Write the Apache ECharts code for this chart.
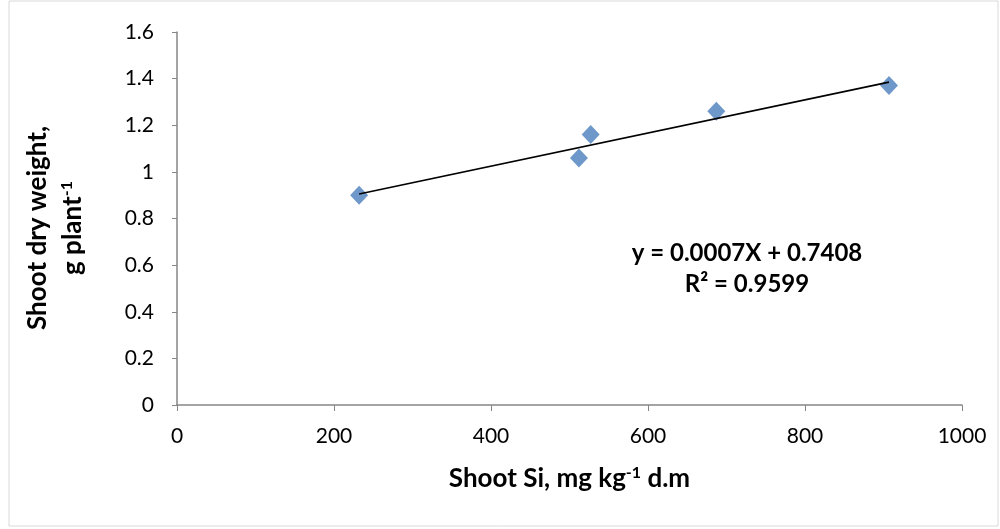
<!DOCTYPE html>
<html>
<head>
<meta charset="utf-8">
<script src="https://cdn.jsdelivr.net/npm/echarts@6/dist/echarts.min.js"></script>
<style>
  html, body { margin: 0; padding: 0; background: #fff; }
  #chart { width: 1000px; height: 529px; }
</style>
</head>
<body>
<div id="chart"></div>
<script>
// measured points
const shootSi = [232, 512, 527, 687, 907];
const shootDryWeight = [0.9, 1.06, 1.16, 1.26, 1.37];
// trendline end points
const trendX = [232, 907];
const trendY = [0.905, 1.385];
const equationText = "y = 0.0007X + 0.7408";
const r2Text = "R² = 0.9599";

const font = "Lato, 'Open Sans', sans-serif";
const myChart = echarts.init(document.getElementById("chart"));

myChart.setOption({
  animation: false,
  grid: {
    left: 177,
    right: 38,
    top: 32,
    bottom: 124,
  },
  xAxis: {
    type: "value",
    min: 0,
    max: 1000,
    interval: 200,
    name: "Shoot Si, mg kg{sup|-1} d.m",
    nameLocation: "middle",
    nameGap: 60,
    nameTextStyle: {
      fontFamily: font,
      fontSize: 26,
      fontWeight: "bold",
      color: "#000",
      rich: {
        sup: { fontSize: 16, fontWeight: "bold", padding: [0, 0, 12, 0], fontFamily: font },
      },
    },
    axisLine: { lineStyle: { color: "#868686", width: 1.5 } },
    axisTick: { show: true, length: 6, lineStyle: { color: "#868686" } },
    axisLabel: {
      color: "#000",
      fontSize: 21,
      fontFamily: font,
      margin: 21,
      formatter: (v) => String(v),
    },
    splitLine: { show: false },
  },
  yAxis: {
    type: "value",
    min: 0,
    max: 1.6,
    interval: 0.2,
    axisLine: { show: true, lineStyle: { color: "#868686", width: 1.5 } },
    axisTick: { show: true, length: 5, lineStyle: { color: "#868686" } },
    axisLabel: { color: "#000", fontSize: 21, fontFamily: font, margin: 23 },
    splitLine: { show: false },
  },
  graphic: [
    {
      type: "rect",
      shape: { x: 9, y: 1, width: 989, height: 525 },
      style: { fill: "none", stroke: "#d9d9d9", lineWidth: 1 },
      silent: true,
    },
    {
      type: "text",
      x: 55,
      y: 228,
      rotation: Math.PI / 2,
      style: {
        text: "Shoot dry weight,\ng plant{sup|-1}",
        fontFamily: font,
        fontSize: 26,
        fontWeight: "bold",
        fill: "#000",
        align: "center",
        verticalAlign: "middle",
        lineHeight: 35,
        rich: {
          sup: { fontSize: 16, fontWeight: "bold", fontFamily: font, padding: [0, 0, 12, 0], lineHeight: 35 },
        },
      },
    },
    {
      type: "text",
      x: 747,
      y: 253,
      style: {
        text: equationText,
        fontFamily: font,
        fontSize: 24,
        fontWeight: "bold",
        fill: "#000",
        align: "center",
        verticalAlign: "middle",
      },
    },
    {
      type: "text",
      x: 747,
      y: 284,
      style: {
        text: r2Text,
        fontFamily: font,
        fontSize: 24,
        fontWeight: "bold",
        fill: "#000",
        align: "center",
        verticalAlign: "middle",
      },
    },
  ],
  series: [
    {
      name: "Trend",
      type: "line",
      data: trendX.map((x, i) => [x, trendY[i]]),
      symbol: "none",
      lineStyle: { color: "#000", width: 1.6 },
      z: 3,
    },
    {
      name: "Shoot dry weight",
      type: "scatter",
      data: shootSi.map((x, i) => [x, shootDryWeight[i]]),
      symbol: "diamond",
      symbolSize: [18, 19],
      itemStyle: { color: "#4a7ebb" },
      z: 2,
    },
  ],
});
</script>
</body>
</html>
